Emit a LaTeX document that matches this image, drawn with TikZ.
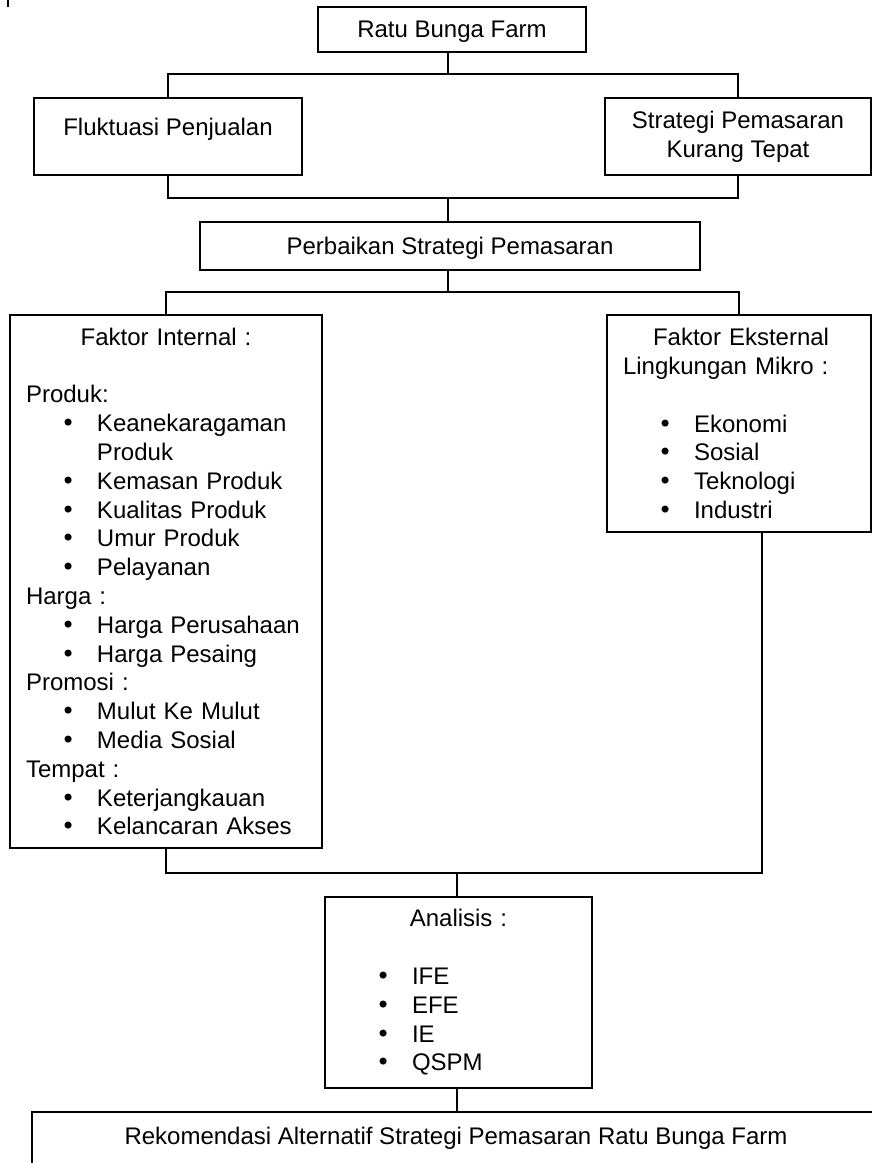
\documentclass[tikz,border=0pt]{standalone}
\usepackage{fontspec}
\setmainfont{Liberation Sans}
\newfontfamily\bulletfont{DejaVu Sans}

\newcommand{\butir}[1]{\hspace*{17.5pt}\makebox[18pt][l]{\bulletfont •}#1}

\begin{document}
\begin{tikzpicture}[
  x=0.5pt,
  y=-0.5pt,
  font=\fontsize{12pt}{14.4pt}\selectfont,
  kotak/.style={draw, line width=1pt, inner sep=0pt, outer sep=0pt, anchor=north west},
  garis/.style={line width=1pt}
]
  \useasboundingbox (0,0) rectangle (872,1163);
  \clip (0,0) rectangle (872,1163);

  % Goresan kecil di pojok kiri atas
  \draw[garis] (8,0) -- (8,7);

  % Kotak paling atas
  \node[kotak, minimum width=134pt, text height=15pt, text depth=7.5pt]
    (ratu) at (318,7) {Ratu Bunga Farm};

  % Permasalahan
  \node[kotak, minimum width=134pt, text height=18.5pt, text depth=20pt]
    (fluktuasi) at (34,98) {Fluktuasi Penjualan};
  \node[kotak, minimum width=133pt, minimum height=38.5pt, align=center]
    (strategi) at (605,98) {Strategi Pemasaran\\Kurang Tepat};

  % Perbaikan
  \node[kotak, minimum width=250pt, text height=16pt, text depth=8pt]
    (perbaikan) at (200,222) {Perbaikan Strategi Pemasaran};

  % Faktor internal
  \node[kotak, minimum width=156pt, minimum height=266.5pt,
        inner xsep=8pt, text width=140pt, align=left]
    (internal) at (10,315) {%
      \makebox[\linewidth]{Faktor Internal :}\\[14.4pt]
      Produk:\\
      \butir{Keanekaragaman}\\
      \hspace*{35.5pt}Produk\\
      \butir{Kemasan Produk}\\
      \butir{Kualitas Produk}\\
      \butir{Umur Produk}\\
      \butir{Pelayanan}\\
      Harga :\\
      \butir{Harga Perusahaan}\\
      \butir{Harga Pesaing}\\
      Promosi :\\
      \butir{Mulut Ke Mulut}\\
      \butir{Media Sosial}\\
      Tempat :\\
      \butir{Keterjangkauan}\\
      \butir{Kelancaran Akses}};

  % Faktor eksternal
  \node[kotak, minimum width=132pt, minimum height=108.5pt,
        inner xsep=8pt, text width=116pt, align=left]
    (eksternal) at (607,315) {%
      \hspace*{15pt}Faktor Eksternal\\
      Lingkungan Mikro :\\[14.4pt]
      \butir{Ekonomi}\\
      \butir{Sosial}\\
      \butir{Teknologi}\\
      \butir{Industri}};

  % Analisis
  \node[kotak, minimum width=133.5pt, minimum height=95.5pt,
        inner xsep=8pt, text width=117.5pt, align=left]
    (analisis) at (325,897) {%
      \makebox[\linewidth]{Analisis :}\\[14.4pt]
      \butir{IFE}\\
      \butir{EFE}\\
      \butir{IE}\\
      \butir{QSPM}};

  % Rekomendasi (terpotong di bawah)
  \node[kotak, minimum width=424pt, text height=16pt, text depth=28pt]
    (rekomendasi) at (32,1112)
    {Rekomendasi Alternatif Strategi Pemasaran Ratu Bunga Farm};

  % Titik simpang
  \coordinate (t1) at (448,74);
  \coordinate (t2) at (448,198);
  \coordinate (t3) at (448,292);
  \coordinate (t4) at (457,873);
  \coordinate (t5) at (762,873);

  % Garis penghubung
  \draw[garis] (ratu.south -| t1) -- (t1);
  \draw[garis] (fluktuasi.north) |- (t1) -| (strategi.north);
  \draw[garis] (fluktuasi.south) |- (t2) -| (strategi.south);
  \draw[garis] (t2) -- (perbaikan.north -| t2);
  \draw[garis] (perbaikan.south -| t3) -- (t3);
  \draw[garis] (internal.north) |- (t3) -| (eksternal.north);
  \draw[garis] (internal.south) |- (t5) -- (eksternal.south -| t5);
  \draw[garis] (t4) -- (analisis.north -| t4);
  \draw[garis] (analisis.south -| t4) -- (rekomendasi.north -| t4);
\end{tikzpicture}
\end{document}
